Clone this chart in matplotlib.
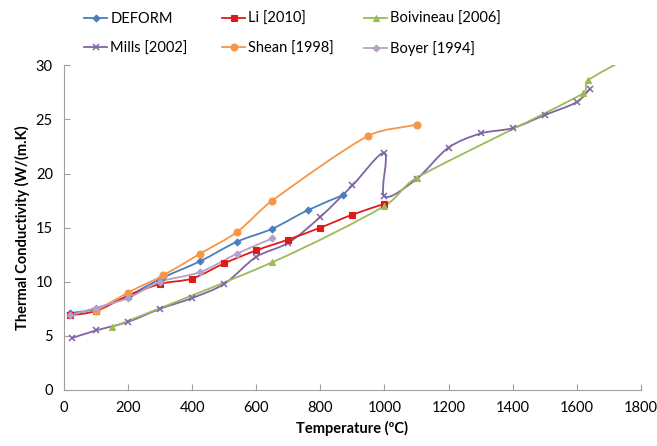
import numpy as np
import matplotlib.pyplot as plt
from matplotlib.path import Path
from matplotlib.patches import PathPatch
from matplotlib.lines import Line2D

plt.rcParams['font.family'] = ['Lato', 'DejaVu Sans']

# thermal conductivity (W/(m.K)) vs temperature (C)
deform_t = [20, 100, 200, 310, 425, 540, 650, 760, 870]
deform_k = [7.1, 7.5, 8.7, 10.4, 11.9, 13.7, 14.9, 16.6, 18.0]

li_t = [20, 100, 200, 300, 400, 500, 600, 700, 800, 900, 1000]
li_k = [6.9, 7.3, 8.7, 9.8, 10.3, 11.7, 12.9, 13.9, 15.0, 16.2, 17.2]

boiv_t = [150, 650, 1000, 1100, 1620, 1635, 1760]
boiv_k = [5.8, 11.8, 17.0, 19.6, 27.4, 28.6, 30.7]

mills_t = [25, 100, 200, 300, 400, 500, 600, 700, 800, 900, 1000, 1000,
           1100, 1200, 1300, 1400, 1500, 1600, 1640]
mills_k = [4.8, 5.5, 6.3, 7.5, 8.5, 9.8, 12.3, 13.6, 16.0, 18.9, 21.9, 17.9,
           19.5, 22.4, 23.7, 24.2, 25.4, 26.6, 27.8]

shean_t = [100, 200, 310, 425, 540, 650, 950, 1100]
shean_k = [7.3, 9.0, 10.6, 12.6, 14.6, 17.5, 23.5, 24.5]

boyer_t = [20, 100, 200, 300, 425, 540, 650]
boyer_k = [6.9, 7.6, 8.5, 10.0, 10.9, 12.6, 14.0]

XMAX, YMAX = 1800.0, 30.0


def smooth_path(x, y):
    # cubic bezier through the points ("smoothed line"); handles are
    # limited by the segment length so short steps don't overshoot
    p = np.column_stack([x, y]).astype(float)
    sc = np.array([XMAX, YMAX])
    verts = [p[0]]
    codes = [Path.MOVETO]
    n = len(p)

    def handle(v, seg):
        vn = np.linalg.norm(v / sc)
        lim = 0.35 * np.linalg.norm(seg / sc)
        if vn > lim and vn > 0:
            v = v * lim / vn
        return v

    for i in range(n - 1):
        p0 = p[i - 1] if i > 0 else p[i]
        p3 = p[i + 2] if i + 2 < n else p[i + 1]
        seg = p[i + 1] - p[i]
        c1 = p[i] + handle((p[i + 1] - p0) / 6.0, seg)
        c2 = p[i + 1] - handle((p3 - p[i]) / 6.0, seg)
        verts += [c1, c2, p[i + 1]]
        codes += [Path.CURVE4] * 3
    return Path(verts, codes)


fig = plt.figure(figsize=(6.57, 4.46), dpi=100)
ax = fig.add_axes([0.0974, 0.1256, 0.878, 0.728])

series = [
    ("DEFORM", deform_t, deform_k, "#4A7EBB", "D", 3.5),
    ("Mills [2002]", mills_t, mills_k, "#8064A2", "x", 5),
    ("Li [2010]", li_t, li_k, "#E01A1A", "s", 5),
    ("Shean [1998]", shean_t, shean_k, "#F79646", "o", 5),
    ("Boivineau [2006]", boiv_t, boiv_k, "#9BBB59", "^", 4.5),
    ("Boyer [1994]", boyer_t, boyer_k, "#B3A2C7", "D", 3.5),
]

handles = []
for name, t, k, c, m, ms in series:
    mew = 1.1 if m == "x" else 0.8
    ax.add_patch(PathPatch(smooth_path(t, k), facecolor="none",
                           edgecolor=c, lw=1.3))
    ax.plot(t, k, linestyle="none", marker=m, ms=ms, color=c, mew=mew)
    handles.append(Line2D([], [], color=c, lw=1.3, marker=m, ms=ms,
                          mew=mew, label=name))

ax.set_xlim(0, XMAX)
ax.set_ylim(0, YMAX)
ax.set_xticks(range(0, 1801, 200))
ax.set_yticks(range(0, 31, 5))
ax.tick_params(direction="in", length=4, color="#A0A0A0", labelsize=10.5,
               pad=8)
for side in ["top", "right"]:
    ax.spines[side].set_visible(False)
for side in ["left", "bottom"]:
    ax.spines[side].set_color("#A0A0A0")

ax.set_xlabel("Temperature (\u00baC)", fontsize=10.5, fontweight="bold")
ax.set_ylabel("Thermal Conductivity (W/(m.K)", fontsize=10.5,
              fontweight="bold")

# legend: three columns of two entries each, placed above the axes
for col, x0 in enumerate([0.128, 0.338, 0.554]):
    fig.legend(handles=handles[2 * col:2 * col + 2], loc="upper left",
               bbox_to_anchor=(x0, 0.973), frameon=False, fontsize=10.5,
               handlelength=1.6, labelspacing=1.05, handletextpad=0.2,
               borderpad=0, borderaxespad=0)

fig.savefig("out.png", dpi=100)
